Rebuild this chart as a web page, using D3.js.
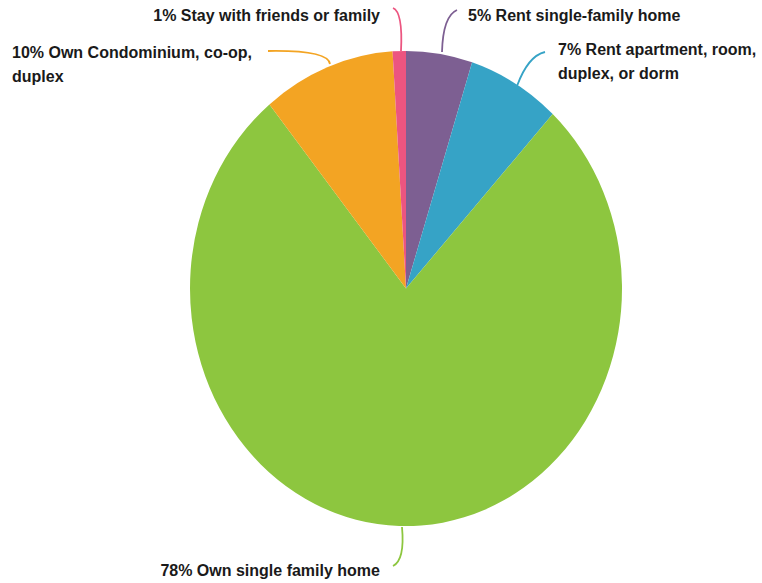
<!DOCTYPE html>
<html>
<head>
<meta charset="utf-8">
<script src="https://cdn.jsdelivr.net/npm/d3@7"></script>
<style>
html,body{margin:0;padding:0;background:#fff;}
svg{display:block;}
text{font-family:"Liberation Sans",Arial,Helvetica,sans-serif;font-weight:bold;font-size:16px;fill:#1a1a1a;}
</style>
</head>
<body>
<svg id="chart" width="762" height="583"></svg>
<script>
// Data
const categories = ["Rent single-family home","Rent apartment, room, duplex, or dorm","Own single family home","Own Condominium, co-op, duplex","Stay with friends or family"];
const values = [5, 7, 78, 10, 1];
const labelLines = [
  ["5% Rent single-family home"],
  ["7% Rent apartment, room,", "duplex, or dorm"],
  ["78% Own single family home"],
  ["10% Own Condominium, co-op,", "duplex"],
  ["1% Stay with friends or family"]
];
const colors = ["#7d5f92", "#36a3c6", "#8dc63f", "#f3a423", "#ec5580"];

// Layout (positions of labels & leader lines)
const cx = 406, cy = 288.5, r = 216, yScale = 1.1;
const labelPos = [
  {x: 468, y: 21, anchor: "start", lead: [[457,10],[443,16],[442,52]]},
  {x: 558, y: 55, anchor: "start", lead: [[545,52],[528,56],[517,86]]},
  {x: 380, y: 576, anchor: "end", lead: [[402,527],[405,560],[393,566]]},
  {x: 12, y: 58, anchor: "start", lead: [[268,51],[328,50],[330,64]]},
  {x: 380, y: 21, anchor: "end", lead: [[393,8],[403,12],[401,51]]}
];
const lineH = 24;

const svg = d3.select("#chart");
const pie = d3.pie().sort(null).value(d => d)(values);
const arc = d3.arc().innerRadius(0).outerRadius(r);

const g = svg.append("g").attr("transform", `translate(${cx},${cy}) scale(1,${yScale})`);
g.selectAll("path").data(pie).enter().append("path")
  .attr("d", arc)
  .attr("fill", (d,i) => colors[i])
  .attr("stroke", "none");

svg.selectAll("path.lead").data(labelPos).enter().append("path")
  .attr("class","lead")
  .attr("d", d => { const p = d3.path(); p.moveTo(...d.lead[0]); p.quadraticCurveTo(...d.lead[1], ...d.lead[2]); return p.toString(); })
  .attr("fill","none")
  .attr("stroke",(d,i) => colors[i])
  .attr("stroke-width", 1.8);

labelLines.forEach((lines, i) => {
  const lp = labelPos[i];
  const t = svg.append("text").attr("text-anchor", lp.anchor);
  lines.forEach((ln, j) => {
    t.append("tspan").attr("x", lp.x).attr("y", lp.y + j*lineH).text(ln);
  });
});
</script>
</body>
</html>
